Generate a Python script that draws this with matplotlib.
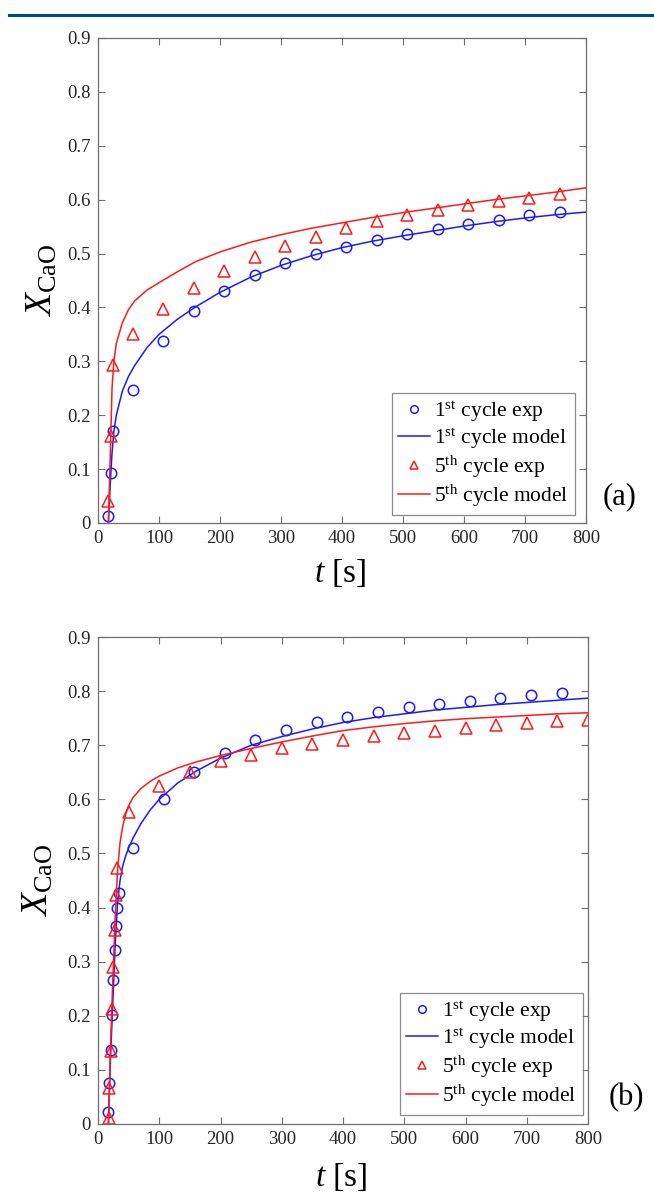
import matplotlib
matplotlib.use("Agg")
import matplotlib.pyplot as plt
from matplotlib.lines import Line2D

plt.rcParams['font.family'] = ['Liberation Serif', 'DejaVu Serif']
plt.rcParams['mathtext.fontset'] = 'custom'
plt.rcParams['mathtext.rm'] = 'Liberation Serif'
plt.rcParams['mathtext.it'] = 'Liberation Serif:italic'

# ---------------- Panel (a) data ----------------
a_t1_exp = [17, 21, 25, 57, 107, 157, 207, 257, 307, 357, 407, 457, 507, 557, 607, 657, 707, 757]
a_x1_exp = [0.013, 0.093, 0.170, 0.247, 0.338, 0.393, 0.431, 0.460, 0.482, 0.499, 0.513,
            0.526, 0.536, 0.546, 0.555, 0.563, 0.571, 0.578]
a_t5_exp = [17, 21, 25, 57, 107, 157, 207, 257, 307, 357, 407, 457, 507, 557, 607, 657, 707, 757]
a_x5_exp = [0.040, 0.162, 0.293, 0.350, 0.398, 0.437, 0.468, 0.493, 0.514, 0.531, 0.547,
            0.560, 0.571, 0.581, 0.590, 0.597, 0.604, 0.610]
a_t_model = [17, 20, 23, 26, 30, 40, 50, 60, 80, 100, 130, 160, 200, 250, 300, 350, 400,
             450, 500, 550, 600, 650, 700, 750, 800]
a_x1_model = [0.0, 0.07, 0.13, 0.17, 0.20, 0.245, 0.272, 0.292, 0.325, 0.350, 0.378, 0.401,
              0.428, 0.456, 0.478, 0.496, 0.511, 0.523, 0.533, 0.542, 0.551, 0.559, 0.566,
              0.572, 0.577]
a_x5_model = [0.0, 0.12, 0.25, 0.30, 0.333, 0.372, 0.396, 0.412, 0.432, 0.446, 0.466, 0.485,
              0.503, 0.521, 0.535, 0.547, 0.557, 0.567, 0.576, 0.584, 0.592, 0.600, 0.607,
              0.614, 0.622]

# ---------------- Panel (b) data ----------------
b_t1_exp = [17, 18.5, 21, 23.4, 25, 27.8, 30, 31.5, 34, 57, 107, 157, 207, 257, 307, 357,
            407, 457, 507, 557, 607, 657, 707, 757]
b_x1_exp = [0.023, 0.075, 0.136, 0.201, 0.267, 0.322, 0.366, 0.400, 0.426, 0.510, 0.600,
            0.651, 0.685, 0.709, 0.728, 0.742, 0.753, 0.762, 0.770, 0.776, 0.782, 0.787,
            0.792, 0.796]
b_t5_exp = [18, 18.5, 21, 22.4, 25, 27.8, 29.4, 31.5, 50, 100, 150, 200, 250, 300, 350, 400,
            450, 500, 550, 600, 650, 700, 750, 800]
b_x5_exp = [0.011, 0.066, 0.134, 0.212, 0.290, 0.359, 0.423, 0.473, 0.576, 0.624, 0.650,
            0.670, 0.682, 0.694, 0.703, 0.710, 0.717, 0.722, 0.727, 0.732, 0.737, 0.741,
            0.744, 0.746]
b_t_model = [17, 20, 24, 28, 32, 36, 40, 45, 50, 57, 70, 85, 100, 130, 160, 200, 250, 300,
             350, 400, 450, 500, 550, 600, 650, 700, 750, 800]
b_x1_model = [0.0, 0.11, 0.22, 0.33, 0.41, 0.45, 0.475, 0.495, 0.51, 0.528, 0.555, 0.580,
              0.600, 0.630, 0.652, 0.676, 0.700, 0.716, 0.730, 0.742, 0.751, 0.758, 0.765,
              0.770, 0.775, 0.779, 0.783, 0.787]
b_x5_model = [0.0, 0.13, 0.26, 0.38, 0.47, 0.52, 0.548, 0.572, 0.588, 0.603, 0.620, 0.633,
              0.643, 0.658, 0.669, 0.681, 0.694, 0.706, 0.717, 0.727, 0.734, 0.740, 0.745,
              0.749, 0.752, 0.755, 0.758, 0.760]

x_ticks = [0, 100, 200, 300, 400, 500, 600, 700, 800]
x_ticklabels = ['0', '100', '200', '300', '400', '500', '600', '700', '800']
y_ticks = [0, 0.1, 0.2, 0.3, 0.4, 0.5, 0.6, 0.7, 0.8, 0.9]
y_ticklabels = ['0', '0.1', '0.2', '0.3', '0.4', '0.5', '0.6', '0.7', '0.8', '0.9']
labels = [r'1$^{\mathrm{st}}$ cycle exp', r'1$^{\mathrm{st}}$ cycle model',
          r'5$^{\mathrm{th}}$ cycle exp', r'5$^{\mathrm{th}}$ cycle model']
panel_tags = ['(a)', '(b)']

BLUE = '#1a1aff'
RED = '#ff1a1a'
AXC = '#6e6e6e'
TXC = '#262626'
SERIF = ['Liberation Serif', 'DejaVu Serif']

W, H = 654, 1197
fig = plt.figure(figsize=(W / 100, H / 100), dpi=100)

# header rule
fig.add_artist(Line2D([9 / W, 1.0], [1 - 15 / H, 1 - 15 / H], color='#004a80', lw=2.2))

axes_px = [(98, 586, 38, 523), (98, 588, 637, 1124)]
datasets = [
    (a_t1_exp, a_x1_exp, a_t5_exp, a_x5_exp, a_t_model, a_x1_model, a_x5_model),
    (b_t1_exp, b_x1_exp, b_t5_exp, b_x5_exp, b_t_model, b_x1_model, b_x5_model),
]
legend_px = [(575, 515), (583, 1115)]
tag_px = [(620, 497), (626, 1098)]
ylab_px = [42, 38]
xlab_px = [573, 1177]

for i in range(2):
    l, r, t, b = axes_px[i]
    ax = fig.add_axes([l / W, 1 - b / H, (r - l) / W, (b - t) / H])
    t1, x1, t5, x5, tm, x1m, x5m = datasets[i]
    ax.plot(t1, x1, linestyle='none', marker='o', mfc='none', mec=BLUE, ms=7.5, mew=1.1,
            label=labels[0])
    ax.plot(tm, x1m, color=BLUE, lw=1.1, label=labels[1])
    ax.plot(t5, x5, linestyle='none', marker='^', mfc='none', mec=RED, ms=8.5, mew=1.1,
            label=labels[2])
    ax.plot(tm, x5m, color=RED, lw=1.1, label=labels[3])
    ax.set_xlim(0, 800)
    ax.set_ylim(0, 0.9)
    ax.set_xticks(x_ticks)
    ax.set_xticklabels(x_ticklabels, fontfamily=SERIF)
    ax.set_yticks(y_ticks)
    ax.set_yticklabels(y_ticklabels, fontfamily=SERIF)
    ax.tick_params(direction='in', top=True, right=True, length=5, width=0.8,
                   colors=AXC, labelcolor=TXC, labelsize=13.5, pad=5)
    for s in ax.spines.values():
        s.set_color(AXC)
        s.set_linewidth(0.9)
    lx, ly = legend_px[i]
    leg = ax.legend(loc='lower right', bbox_to_anchor=((lx - l) / (r - l), (b - ly) / (b - t)),
                    borderaxespad=0, fontsize=15.5, frameon=True, fancybox=False,
                    edgecolor=AXC, handlelength=1.45, handletextpad=0.2, labelspacing=0.12,
                    borderpad=0.3, numpoints=1)
    leg.get_frame().set_linewidth(0.9)
    for h in leg.legend_handles:
        if h.get_marker() in ('o', '^'):
            h.set_markersize(5.5)
    fig.text(tag_px[i][0] / W, 1 - tag_px[i][1] / H, panel_tags[i], fontsize=22,
             ha='center', va='center', color='black')
    fig.text(ylab_px[i] / W, 1 - ((t + b) / 2) / H, r'$X_{\mathrm{CaO}}$', fontsize=27,
             rotation=90, ha='center', va='center', color='black')
    fig.text(((l + r) / 2 - 2) / W, 1 - xlab_px[i] / H, r'$t$ [s]', fontsize=24,
             ha='center', va='center', color='black')

fig.savefig('out.png', dpi=100)
